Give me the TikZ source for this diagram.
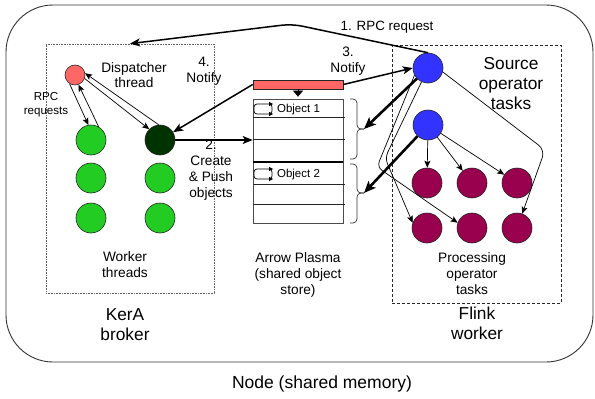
\documentclass[tikz,border=0pt]{standalone}
\usepackage{fontspec}
\setmainfont{Liberation Sans}
\usetikzlibrary{arrows.meta}
\definecolor{redc}{RGB}{255,102,102}
\definecolor{greenc}{RGB}{34,204,34}
\definecolor{dgreenc}{RGB}{0,51,0}
\definecolor{bluec}{RGB}{51,51,255}
\definecolor{purplec}{RGB}{153,0,77}
\tikzset{
  circ/.style={circle, draw=black!85, line width=0.6pt, minimum size=30pt, inner sep=0pt},
  big/.style={font=\fontsize{17.3}{20}\selectfont, align=center, inner sep=0pt},
  med/.style={font=\fontsize{13.7}{16}\selectfont, align=center, inner sep=0pt},
  small/.style={font=\fontsize{11.6}{14}\selectfont, align=center, inner sep=0pt},
  tarrow/.style={line width=0.7pt, -{Stealth[length=7pt,width=6pt,inset=1.5pt]}},
  marrow/.style={line width=1.5pt, -{Stealth[length=10pt,width=8pt,inset=2.5pt]}},
  barrow/.style={line width=2.6pt, -{Stealth[length=12pt,width=10pt,inset=3pt]}},
  bracep/.style={line width=0.7pt, draw=black!80, rounded corners=4pt},
}
\begin{document}
\begin{tikzpicture}[x=1pt,y=-1pt]
\useasboundingbox (0,0) rectangle (595,399);
% outer node
\node[draw=black!80, line width=0.9pt, rounded corners=47pt, minimum width=587pt, minimum height=357pt] (outer) at (299.5,183.5) {};
\node[draw=black!60, line width=0.7pt, dash pattern=on 0.8pt off 0.8pt, minimum width=168pt, minimum height=249pt] (kera) at (130,168.5) {};
\node[draw=black!85, line width=0.7pt, dash pattern=on 3pt off 2pt, minimum width=169pt, minimum height=258pt] (flink) at (476.5,174) {};

% KerA broker
\node[circle, draw=black!85, line width=0.6pt, fill=redc, minimum size=20pt, inner sep=0pt] (disp) at (75,75) {};
\node[circ, fill=greenc] (g11) at (91,140) {};
\node[circ, fill=dgreenc] (dg) at (160,140) {};
\node[circ, fill=greenc] (g21) at (91,178) {};
\node[circ, fill=greenc] (g22) at (160,178) {};
\node[circ, fill=greenc] (g31) at (91,218) {};
\node[circ, fill=greenc] (g32) at (160,218) {};

\node[med] (tdisp) at (134,75) {Dispatcher\\[-1.5pt]thread};
\node[small] (trpc) at (46,105) {RPC\\requests};
\node[med] (twork) at (125,264.5) {Worker\\threads};
\node[big] (tkera) at (125,324.5) {KerA\\broker};

% Arrow plasma
\node[draw=black!85, line width=0.7pt, fill=redc, minimum width=90pt, minimum height=9pt] (bar) at (298,84.5) {};
\node[draw=black!70, line width=0.7pt, minimum width=90pt, minimum height=124pt] (store) at (298,161) {};
\draw[line width=0.6pt, black!85] (253,117) -- (345,117);
\draw[line width=0.6pt, black!85] (253,139) -- (345,139);
\draw[line width=2pt, black] (253,162) -- (343,162);
\draw[line width=0.6pt, black!85] (253,184) -- (345,184);
\draw[line width=0.6pt, black!85] (253,204) -- (345,204);
\draw[-{Triangle[length=6pt,width=10pt]}, line width=0.4pt, shorten >=2pt] (bar.south) -- (store.north);
% loop icons
\foreach \yy in {104,169}{
  \draw[line width=0.7pt, rounded corners=3pt] (254,\yy) rectangle (272,\yy+10);
  \fill (273,\yy) -- (269,\yy-2.2) -- (269,\yy+2.2) -- cycle;
  \fill (273,\yy+10) -- (269,\yy+7.8) -- (269,\yy+12.2) -- cycle;
}
\node[small, font=\fontsize{11.5}{14}\selectfont] (ob1) at (298.5,109.5) {Object 1};
\node[small, font=\fontsize{11.5}{14}\selectfont] (ob2) at (298.5,174.5) {Object 2};
\node[med] (tplasma) at (298,274.5) {Arrow Plasma\\(shared object\\store)};

% braces
\draw[bracep] (350,99) -- (357,99) -- (357,129) -- (364,129);
\draw[bracep] (364,129) -- (357,129) -- (357,159) -- (350,159);
\draw[bracep] (350,164) -- (357,164) -- (357,193) -- (364,193);
\draw[bracep] (364,193) -- (357,193) -- (357,223) -- (350,223);
\coordinate (bt1) at (364,129);
\coordinate (bt2) at (364,193);

% Flink worker
\node[circ, fill=bluec] (b1) at (428,68) {};
\node[circ, fill=bluec] (b2) at (428,125) {};
\node[circ, fill=purplec] (p11) at (427,183) {};
\node[circ, fill=purplec] (p12) at (472,183) {};
\node[circ, fill=purplec] (p13) at (517,183) {};
\node[circ, fill=purplec] (p21) at (427,228) {};
\node[circ, fill=purplec] (p22) at (472,228) {};
\node[circ, fill=purplec] (p23) at (517,228) {};
\node[big] (tsrc) at (511,83.5) {Source\\operator\\tasks};
\node[med] (tproc) at (472,274) {Processing\\operator\\tasks};
\node[big] (tflink) at (477,323.5) {Flink\\worker};

\node[big, font=\fontsize{17.5}{20}\selectfont] (tnode) at (322,384) {Node (shared memory)};

% connectors
\draw[marrow, rounded corners=10pt] (b1.north) -- (292,24) -- (kera.north);
\node[med, font=\fontsize{13.4}{16}\selectfont] (l1) at (387,27) {1. RPC request};
\draw[marrow] (bar.east) -- (b1.west);
\node[med] (l3) at (348,61.5) {3.\\Notify};
\draw[marrow] (bar.west) -- (dg);
\node[med] (l4) at (204,71) {4.\\Notify};
\draw[marrow] (dg.east) -- (dg.east -| store.west);
\node[med] (l2) at (211,170) {2.\\Create\\\& Push\\objects};
\draw[barrow] (b1) -- (bt1);
\draw[barrow] (b2) -- (bt2);

\draw[tarrow] (b2) -- (p11);
\draw[tarrow] (b2) -- (p12);
\draw[tarrow] (b2) -- (p13);
\draw[tarrow, rounded corners=8pt] (b1.345) -- (545,150) -- (p23.70);
\draw[tarrow, rounded corners=6pt] (b1.208) -- (377,167) -- (p22.160);
\draw[tarrow, rounded corners=6pt] (b1.245) -- (385,158) -- (p21.160);

\draw[tarrow] (disp.238) -- (g11.100);
\draw[tarrow] (g11.60) -- (disp.290);
\draw[tarrow] (disp.340) -- (dg.135);
\draw[tarrow] (dg.95) -- (disp.10);
\end{tikzpicture}
\end{document}
